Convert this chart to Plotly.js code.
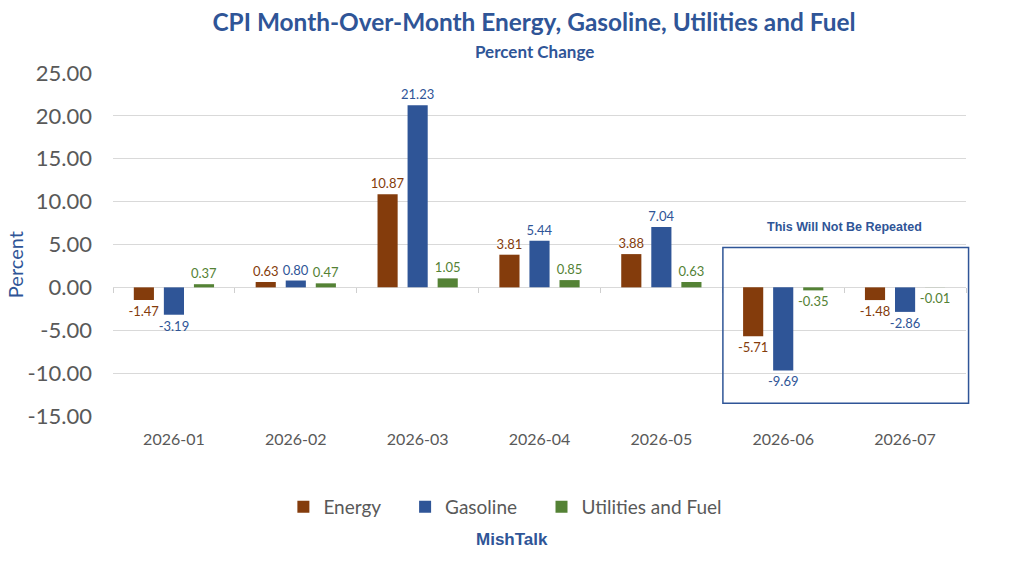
<!DOCTYPE html>
<html>
<head>
<meta charset="utf-8">
<script src="https://cdn.plot.ly/plotly-3.0.1.min.js"></script>
<style>
  html, body { margin: 0; padding: 0; background: #ffffff; }
  #chart { width: 1024px; height: 580px; }
</style>
</head>
<body>
<div id="chart"></div>
<script>
// ─── Data ─────────────────────────────────────────────────────────────────────
const months    = ['2026-01', '2026-02', '2026-03', '2026-04', '2026-05', '2026-06', '2026-07'];
const energy    = [-1.47, 0.63, 10.87, 3.81, 3.88, -5.71, -1.48];
const gasoline  = [-3.19, 0.80, 21.23, 5.44, 7.04, -9.69, -2.86];
const utilities = [0.37, 0.47, 1.05, 0.85, 0.63, -0.35, -0.01];
const yTicks    = [-15, -10, -5, 0, 5, 10, 15, 20, 25];

// ─── Styling ──────────────────────────────────────────────────────────────────
const BLUE  = '#2F5597';
const BROWN = '#843C0C';
const GREEN = '#548235';
const GREY  = '#595959';
const GRID  = '#d9d9d9';
const FONT  = 'Lato, "Open Sans", sans-serif';
const PAD   = '\u00a0\u00a0\u00a0\u00a0';   // widens legend entries like Excel

function barTrace(name, values, color, pad) {
  return {
    type: 'bar',
    name: name + pad,
    x: months,
    y: values,
    marker: { color: color },
    text: values.map(v => v.toFixed(2)),   // plain hyphen, as in the source
    textposition: 'outside',
    constraintext: 'none',
    cliponaxis: false,
    textfont: { family: FONT, size: 13, color: color },
    hoverinfo: 'x+y',
  };
}

const traces = [
  barTrace('Energy', energy, BROWN, PAD),
  barTrace('Gasoline', gasoline, BLUE, PAD),
  barTrace('Utilities and Fuel', utilities, GREEN, ''),
  // carrier for the boundary tick marks along the zero line
  { type: 'scatter', x: months, y: months.map(() => null), xaxis: 'x2',
    showlegend: false, hoverinfo: 'skip' },
];

const layout = {
  width: 1024,
  height: 580,
  paper_bgcolor: '#ffffff',
  plot_bgcolor: '#ffffff',
  margin: { l: 113, r: 58, t: 73, b: 164 },
  font: { family: FONT, color: GREY },
  barmode: 'group',
  bargap: 0.26,
  bargroupgap: 0.33,
  title: {
    text: '<b>CPI Month-Over-Month Energy, Gasoline, Utilities and Fuel</b>',
    font: { family: FONT, size: 24.4, color: BLUE },
    x: 0.5215, xanchor: 'center',
    y: 0.962, yanchor: 'middle',
  },
  xaxis: {
    type: 'category',
    categoryarray: months,
    range: [-0.5, 6.5],
    showgrid: false,
    zeroline: false,
    showline: false,
    ticks: '',
    tickfont: { family: FONT, size: 16, color: GREY },
    ticklabelstandoff: 12,
  },
  xaxis2: {
    type: 'category',
    categoryarray: months,
    range: [-0.5, 6.5],
    overlaying: 'x',
    anchor: 'free',
    position: 0.375,
    side: 'bottom',
    tickson: 'boundaries',
    ticks: 'outside',
    ticklen: 5,
    tickcolor: '#cfcfcf',
    showticklabels: false,
    showgrid: false,
    showline: false,
    zeroline: false,
  },
  yaxis: {
    range: [-15, 25],
    tickvals: yTicks,
    ticktext: yTicks.map(v => v.toFixed(2)),
    showgrid: true,
    gridcolor: GRID,
    gridwidth: 1,
    zeroline: true,
    zerolinecolor: GRID,
    zerolinewidth: 1,
    tickfont: { family: FONT, size: 22, color: GREY },
    ticklabelstandoff: 20,
  },
  legend: {
    orientation: 'h',
    x: 0.46, xanchor: 'center',
    y: -0.265, yanchor: 'middle',
    font: { family: FONT, size: 19, color: GREY },
    itemwidth: 30,
    traceorder: 'normal',
  },
  annotations: [
    {
      text: '<b>Percent Change</b>',
      xref: 'paper', yref: 'paper', x: 0.494, y: 1.064,
      xanchor: 'center', yanchor: 'middle', showarrow: false,
      font: { family: FONT, size: 17, color: BLUE },
    },
    {
      text: 'Percent',
      xref: 'paper', yref: 'y', x: -0.115, y: 2.7,
      xanchor: 'center', yanchor: 'middle', showarrow: false, textangle: -90,
      font: { family: FONT, size: 20, color: BLUE },
    },
    {
      text: '<b>This Will Not Be Repeated</b>',
      xref: 'paper', yref: 'y', x: 0.858, y: 7.0,
      xanchor: 'center', yanchor: 'middle', showarrow: false,
      font: { family: '"Liberation Sans", Arial, sans-serif', size: 12.5, color: BLUE },
    },
    {
      text: '<b>MishTalk</b>',
      xref: 'paper', yref: 'paper', x: 0.468, y: -0.359,
      xanchor: 'center', yanchor: 'middle', showarrow: false,
      font: { family: '"Liberation Sans", Arial, sans-serif', size: 17, color: BLUE },
    },
  ],
  shapes: [
    {
      type: 'rect',
      xref: 'paper', yref: 'y',
      x0: 0.715, x1: 1.003, y0: -13.5, y1: 4.66,
      line: { color: BLUE, width: 1.5 },
      fillcolor: 'rgba(0,0,0,0)',
    },
  ],
  showlegend: true,
};

Plotly.newPlot('chart', traces, layout, { displayModeBar: false, staticPlot: true });
</script>
</body>
</html>
